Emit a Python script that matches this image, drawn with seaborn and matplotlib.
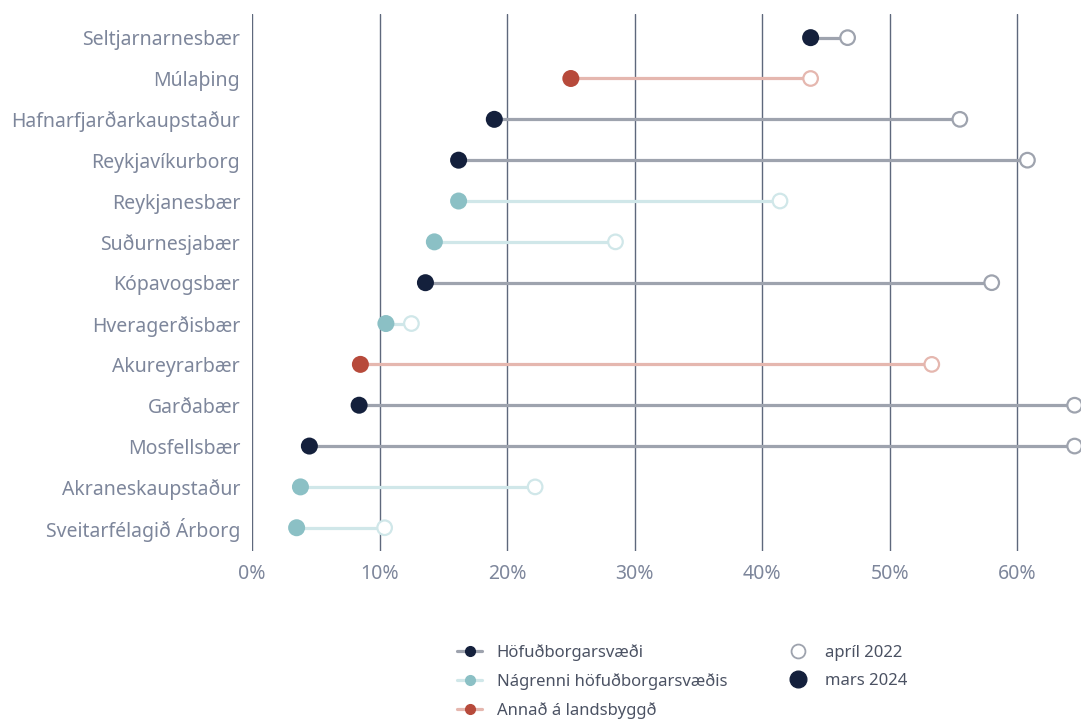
import matplotlib
matplotlib.use("Agg")
import matplotlib.pyplot as plt
from matplotlib.lines import Line2D
import seaborn as sns
import pandas as pd

# Sveitarfélög, svæði og hlutföll (%)
sveitarfelog = [
    "Seltjarnarnesbær", "Múlaþing", "Hafnarfjarðarkaupstaður", "Reykjavíkurborg",
    "Reykjanesbær", "Suðurnesjabær", "Kópavogsbær", "Hveragerðisbær",
    "Akureyrarbær", "Garðabær", "Mosfellsbær", "Akraneskaupstaður",
    "Sveitarfélagið Árborg",
]
svaedi = [
    "Höfuðborgarsvæði", "Annað á landsbyggð", "Höfuðborgarsvæði", "Höfuðborgarsvæði",
    "Nágrenni höfuðborgarsvæðis", "Nágrenni höfuðborgarsvæðis", "Höfuðborgarsvæði",
    "Nágrenni höfuðborgarsvæðis", "Annað á landsbyggð", "Höfuðborgarsvæði",
    "Höfuðborgarsvæði", "Nágrenni höfuðborgarsvæðis", "Nágrenni höfuðborgarsvæðis",
]
april_2022 = [46.7, 43.8, 55.5, 60.8, 41.4, 28.5, 58.0, 12.5, 53.3, 64.5, 64.5, 22.2, 10.4]
mars_2024 = [43.8, 25.0, 19.0, 16.2, 16.2, 14.3, 13.6, 10.5, 8.5, 8.4, 4.5, 3.8, 3.5]
x_ticks = [0, 10, 20, 30, 40, 50, 60]

litir = {
    "Höfuðborgarsvæði": "#14203c",
    "Nágrenni höfuðborgarsvæðis": "#8bc0c5",
    "Annað á landsbyggð": "#b74a3b",
}
ljosir = {
    "Höfuðborgarsvæði": "#9ea3ae",
    "Nágrenni höfuðborgarsvæðis": "#d0e7e9",
    "Annað á landsbyggð": "#e5b7af",
}

df = pd.DataFrame({
    "sveitarfelag": sveitarfelog,
    "svaedi": svaedi,
    "april_2022": april_2022,
    "mars_2024": mars_2024,
})
df["y"] = range(len(df))

sns.set_theme(style="white")
plt.rcParams["font.family"] = ["Noto Sans", "DejaVu Sans"]
text_col = "#7d869b"

fig = plt.figure(figsize=(10.81, 7.2), dpi=100)
ax = fig.add_axes([0.2331, 0.2347, 0.7669, 0.7459])

# Lóðréttar hnitalínur
for t in x_ticks:
    ax.axvline(t, color="#5e687c", lw=1.0, zorder=0)

# Tengilínur milli ára
for _, r in df.iterrows():
    ax.plot([r["mars_2024"], r["april_2022"]], [r["y"], r["y"]],
            color=ljosir[r["svaedi"]], lw=2.3, zorder=1, solid_capstyle="butt")

# Opnir hringir: apríl 2022
sns.scatterplot(data=df, x="april_2022", y="y", hue="svaedi", palette=ljosir,
                s=110, marker="o", linewidth=1.6, legend=False, ax=ax, zorder=3)
for coll in ax.collections:
    coll.set_facecolor("white")
    coll.set_edgecolor([ljosir[s] for s in df["svaedi"]])

# Fylltir hringir: mars 2024
sns.scatterplot(data=df, x="mars_2024", y="y", hue="svaedi", palette=litir,
                s=150, marker="o", edgecolor="none", legend=False, ax=ax, zorder=4)

ax.set_xlim(0, 65)
ax.set_ylim(len(df) - 1 + 0.57, -0.58)
ax.set_yticks(df["y"])
ax.set_yticklabels(df["sveitarfelag"])
ax.set_xticks(x_ticks)
ax.set_xticklabels([f"{t}%" for t in x_ticks])
ax.tick_params(axis="both", length=0, labelsize=14, colors=text_col)
ax.tick_params(axis="y", pad=8.5)
ax.tick_params(axis="x", pad=9)
ax.set_xlabel("")
ax.set_ylabel("")
for sp in ax.spines.values():
    sp.set_visible(False)
for lbl in ax.get_xticklabels() + ax.get_yticklabels():
    lbl.set_color(text_col)

# Skýringar
handles = [
    Line2D([0], [0], color=ljosir[k], lw=2.3, marker="o", markersize=7,
           markerfacecolor=litir[k], markeredgecolor=litir[k], label=k)
    for k in ["Höfuðborgarsvæði", "Nágrenni höfuðborgarsvæðis", "Annað á landsbyggð"]
]
handles += [
    Line2D([0], [0], lw=0, marker="o", markersize=10, markerfacecolor="white",
           markeredgecolor="#9ea3ae", markeredgewidth=1.3, label="apríl 2022"),
    Line2D([0], [0], lw=0, marker="o", markersize=12, markerfacecolor="#14203c",
           markeredgecolor="#14203c", label="mars 2024"),
]
leg = fig.legend(handles=handles, loc="center", bbox_to_anchor=(0.631, 0.0535),
                 ncol=2, frameon=False, fontsize=12, handlelength=1.5,
                 columnspacing=3.5, handletextpad=0.85, labelspacing=0.72)
for t in leg.get_texts():
    t.set_color("#4b5263")

fig.savefig("out.png", dpi=100)
